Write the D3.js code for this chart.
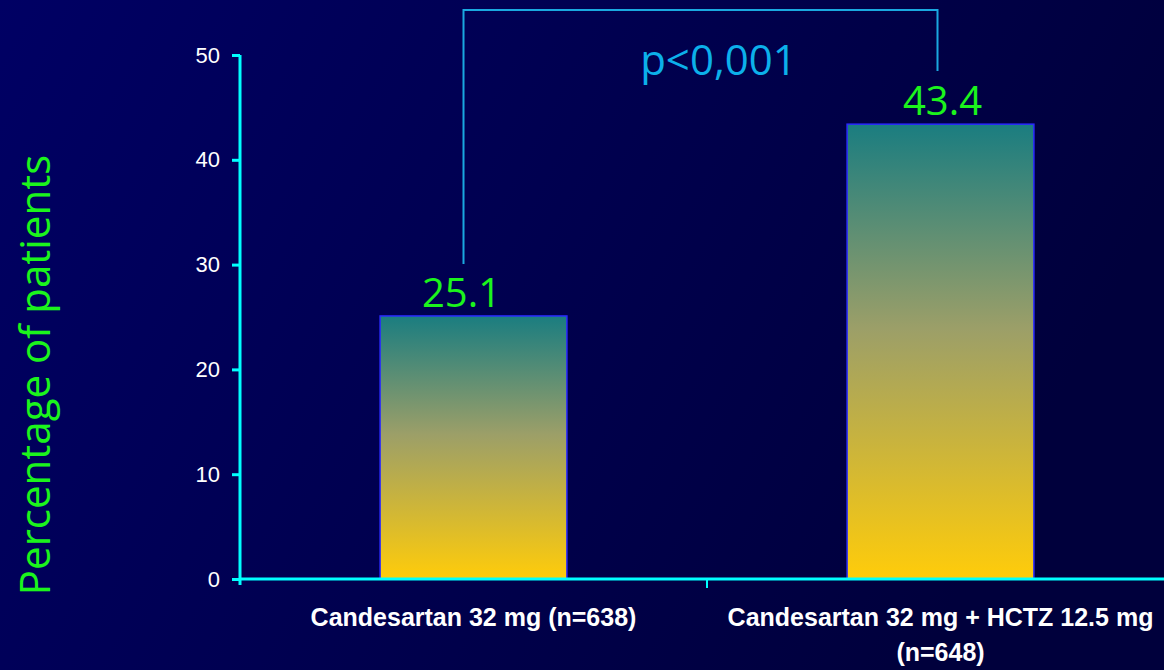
<!DOCTYPE html>
<html>
<head>
<meta charset="utf-8">
<script src="https://cdn.jsdelivr.net/npm/d3@7"></script>
<style>
  html, body { margin: 0; padding: 0; background: #000050; }
  svg { display: block; }
</style>
</head>
<body>
<svg id="chart" width="1164" height="670"></svg>
<script>
// Chart data
const categories = ["Candesartan 32 mg (n=638)", "Candesartan 32 mg + HCTZ 12.5 mg (n=648)"];
const categoryLines = [["Candesartan 32 mg (n=638)"], ["Candesartan 32 mg + HCTZ 12.5 mg", "(n=648)"]];
const values = [25.1, 43.4];
const valueLabels = ["25.1", "43.4"];
const yTicks = [0, 10, 20, 30, 40, 50];
const yTitle = "Percentage of patients";
const pLabel = "p<0,001";

const W = 1164, H = 670;
const svg = d3.select("#chart");
const defs = svg.append("defs");

// Background: deep navy, slightly darker toward the right
const bg = defs.append("linearGradient").attr("id", "bg").attr("x1", 0).attr("x2", 1).attr("y1", 0).attr("y2", 0.3);
bg.append("stop").attr("offset", "0%").attr("stop-color", "#000064");
bg.append("stop").attr("offset", "100%").attr("stop-color", "#00003c");
svg.append("rect").attr("width", W).attr("height", H).attr("fill", "url(#bg)");

// Bar fill: teal at the top fading into gold at the base
const bf = defs.append("linearGradient").attr("id", "barFill").attr("x1", 0).attr("x2", 0).attr("y1", 0).attr("y2", 1);
bf.append("stop").attr("offset", "0%").attr("stop-color", "#1a7d80");
bf.append("stop").attr("offset", "45%").attr("stop-color", "#9c9f68");
bf.append("stop").attr("offset", "100%").attr("stop-color", "#ffcc0a");

const x = d3.scaleBand().domain(categories).range([240, 1174]).padding(0);
const y = d3.scaleLinear().domain([0, 50]).range([579, 55]);
const barW = x.bandwidth() * 0.4;
const cx = d => x(d) + x.bandwidth() / 2;

// Bars
svg.selectAll("rect.bar").data(values).join("rect")
  .attr("class", "bar")
  .attr("x", (d, i) => cx(categories[i]) - barW / 2)
  .attr("y", d => y(d))
  .attr("width", barW)
  .attr("height", d => y(0) - y(d))
  .attr("fill", "url(#barFill)")
  .attr("stroke", "#2a2aff")
  .attr("stroke-width", 1.5);

// Value labels
svg.selectAll("text.val").data(values).join("text")
  .attr("class", "val")
  .attr("x", (d, i) => cx(categories[i]) + (i === 0 ? -12 : 2))
  .attr("y", d => y(d) - 9)
  .attr("text-anchor", "middle")
  .attr("fill", "#1cf41c")
  .attr("font-family", "'Open Sans', sans-serif")
  .attr("font-size", 40)
  .text((d, i) => valueLabels[i]);

// Y axis
const yAxis = svg.append("g").attr("transform", "translate(240,0)")
  .call(d3.axisLeft(y).tickValues(yTicks).tickSize(8).tickPadding(12));
yAxis.select(".domain").attr("stroke", "#00ffff").attr("stroke-width", 3)
  .attr("d", `M0,${y(50)}V${y(0) + 6}`);
yAxis.selectAll(".tick line").attr("stroke", "#00ffff").attr("stroke-width", 3);
yAxis.selectAll(".tick text").attr("fill", "#ffffff")
  .attr("font-family", "'Liberation Sans', Arial, sans-serif").attr("font-size", 22);

// X axis
const xAxis = svg.append("g").attr("transform", `translate(0,${y(0)})`)
  .call(d3.axisBottom(x).tickValues([]).tickSizeOuter(0));
xAxis.select(".domain").attr("stroke", "#00ffff").attr("stroke-width", 3)
  .attr("d", `M240,0H${W}`);
// separator tick between the two groups
svg.append("line")
  .attr("x1", x(categories[1])).attr("x2", x(categories[1]))
  .attr("y1", y(0)).attr("y2", y(0) + 9)
  .attr("stroke", "#00ffff").attr("stroke-width", 2);

// Category labels
categories.forEach((c, i) => {
  const t = svg.append("text")
    .attr("x", cx(c))
    .attr("y", 626)
    .attr("text-anchor", "middle")
    .attr("fill", "#ffffff")
    .attr("font-family", "'Liberation Sans', Arial, sans-serif")
    .attr("font-weight", "bold")
    .attr("font-size", 25);
  categoryLines[i].forEach((ln, j) => {
    t.append("tspan").attr("x", cx(c)).attr("dy", j === 0 ? 0 : 35).text(ln);
  });
});

// Y axis title
svg.append("text")
  .attr("transform", `translate(50,${375}) rotate(-90)`)
  .attr("text-anchor", "middle")
  .attr("fill", "#1cf41c")
  .attr("font-family", "'Open Sans', sans-serif")
  .attr("font-size", 42)
  .text(yTitle);

// Significance bracket
const bx1 = cx(categories[0]) - 10, bx2 = cx(categories[1]) - 3;
svg.append("path")
  .attr("d", `M${bx1},${y(values[0]) - 52}V10H${bx2}V71`)
  .attr("fill", "none")
  .attr("stroke", "#1aa8e0")
  .attr("stroke-width", 2);
svg.append("text")
  .attr("x", (bx1 + bx2) / 2 + 18)
  .attr("y", 75)
  .attr("text-anchor", "middle")
  .attr("fill", "#0cb0ea")
  .attr("font-family", "'Open Sans', sans-serif")
  .attr("font-size", 42)
  .text(pLabel);
</script>
</body>
</html>
